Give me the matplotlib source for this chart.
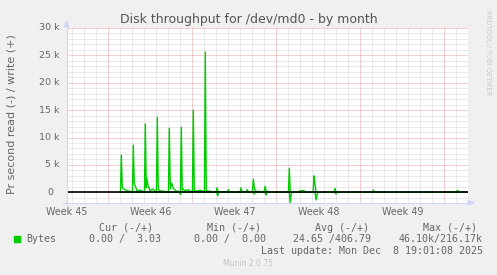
import matplotlib.pyplot as plt
from matplotlib.lines import Line2D
from matplotlib.patches import Polygon, Rectangle
from matplotlib.transforms import blended_transform_factory

# time in days from the start of the graph, values in k bytes/s
write_t = [4.48, 4.55, 4.63, 4.69, 4.94, 5.19, 5.48, 5.55, 5.63, 5.69, 5.86, 6.11, 6.28,
           6.48, 6.55, 6.63, 6.67, 6.78, 6.94, 7.19, 7.36, 7.48, 7.55, 7.63, 7.78, 8.03,
           8.48, 8.55, 8.63, 8.75, 8.86, 9.03, 9.19, 9.48, 9.55, 9.63, 9.69, 9.86, 10.11,
           10.28, 10.48, 10.55, 10.63, 10.86, 11.11, 11.36, 11.48, 11.55, 11.63, 11.94,
           12.19, 12.44, 12.53, 12.61, 13.40, 13.47, 13.54, 14.44, 14.53, 14.61, 14.98,
           15.05, 15.13, 15.48, 15.55, 15.63, 15.74, 16.45, 16.53, 16.61, 16.73, 16.94,
           18.48, 18.55, 18.63, 19.36, 19.44, 19.78, 19.86, 20.54, 20.61, 20.69, 20.78,
           22.29, 22.36, 22.44, 25.48, 25.55, 25.63, 32.44, 32.53, 32.61, 32.69, 33.36]
write_k = [0.0, 6.8, 0.9, 0.7, 0.4, 0.2, 0.1, 8.6, 1.5, 1.3, 0.3, 0.4, 0.2,
           0.1, 12.5, 0.8, 2.6, 1.2, 0.3, 0.6, 0.2, 0.1, 13.7, 0.5, 0.3, 0.2,
           0.1, 11.7, 0.6, 1.7, 0.8, 0.4, 0.2, 0.1, 11.9, 0.4, 0.6, 0.3, 0.5,
           0.2, 0.1, 15.0, 0.3, 0.2, 0.4, 0.2, 0.1, 25.6, 0.3, 0.2,
           0.1, 0.1, 0.8, 0.1, 0.1, 0.5, 0.1, 0.1, 0.8, 0.1, 0.1,
           0.5, 0.1, 0.1, 2.4, 0.8, 0.2, 0.1, 1.1, 0.3, 0.1, 0.0,
           0.0, 4.4, 0.0, 0.0, 0.3, 0.3, 0.0, 0.0, 3.0, 1.6, 0.0,
           0.0, 0.7, 0.0, 0.0, 0.4, 0.0, 0.0, 0.3, 0.3, 0.0, 0.0]

read_t = [4.48, 9.40, 9.47, 9.54, 12.50, 12.58, 12.66, 15.55, 15.63, 15.71, 16.53, 16.61,
          16.69, 18.55, 18.63, 18.71, 18.78, 20.69, 20.78, 20.86, 20.94, 22.36, 22.44,
          22.52, 33.36]
read_k = [0.0, 0.0, 0.4, 0.0, 0.0, 0.6, 0.0, 0.0, 0.3, 0.0, 0.0, 0.5,
          0.0, 0.0, 1.9, 0.3, 0.0, 0.0, 1.4, 0.5, 0.0, 0.0, 0.3,
          0.0, 0.0]

y_ticks = [0, 5, 10, 15, 20, 25, 30]
y_labels = ["0", "5 k", "10 k", "15 k", "20 k", "25 k", "30 k"]
week_pos = [-0.03, 6.97, 13.97, 20.97, 27.97]
week_labels = ["Week 45", "Week 46", "Week 47", "Week 48", "Week 49"]

legend_head = ["Cur (-/+)", "Min (-/+)", "Avg (-/+)", "Max (-/+)"]
legend_vals = ["0.00 /  3.03", "0.00 /  0.00", "24.65 /406.79", "46.10k/216.17k"]

W, H = 497, 275
def fx(x):
    return x / W
def fy(y):
    return 1 - y / H

fig = plt.figure(figsize=(W / 100, H / 100), dpi=100, facecolor="#f0f0f0")
ax = fig.add_axes([fx(66.7), fy(202.7), 401.6 / W, 174.7 / H])
ax.set_facecolor("white")
ax.set_xlim(0, 401.6 / 12)
ax.set_ylim(-1.9, 30)
for s in ax.spines.values():
    s.set_visible(False)
ax.set_xticks([])
ax.set_yticks([])

dot = (0, (1, 1))
# minor grid
for v in range(-1, 31):
    if v % 5 != 0:
        ax.axhline(v, color="#d4d4d4", lw=0.72, ls=dot, zorder=1)
for k in range(0, 34):
    d = 0.47 + k
    if (k - 3) % 7 != 0:
        ax.axvline(d, color="#d4d4d4", lw=0.72, ls=dot, zorder=1)
# major grid
for v in y_ticks:
    ax.axhline(v, color="#e6a0a0", lw=0.72, ls=dot, zorder=2)
for k in range(5):
    ax.axvline(3.47 + 7 * k, color="#e6a0a0", lw=0.72, ls=dot, zorder=2)

ax.plot(write_t, write_k, color="#00cc00", lw=1.0, zorder=3)
ax.plot(read_t, [-v for v in read_k], color="#00cc00", lw=1.0, zorder=3)
ax.axhline(0, color="black", lw=1.2, zorder=4)

txt = "#666666"
ty = blended_transform_factory(fig.transFigure, ax.transData)
for v, lab in zip(y_ticks, y_labels):
    x = 53.3 if lab == "0" else 59.3
    fig.text(fx(x), v, lab, transform=ty, ha="right", va="center", fontsize=6.8, color=txt)
tx = blended_transform_factory(ax.transData, fig.transFigure)
for p, lab in zip(week_pos, week_labels):
    ax.text(p, fy(212.3), lab, transform=tx, ha="center", va="center", fontsize=6.9,
            color=txt, clip_on=False)

# axes with arrows
axc = "#cfd6f8"
fig.add_artist(Line2D([fx(66.7), fx(66.7)], [fy(205), fy(24)], color=axc, lw=0.8))
fig.add_artist(Polygon([[fx(64.5), fy(27)], [fx(68.9), fy(27)], [fx(66.7), fy(21)]],
                       closed=True, color=axc))
fig.add_artist(Line2D([fx(63), fx(470)], [fy(202.7), fy(202.7)], color=axc, lw=0.8))
fig.add_artist(Polygon([[fx(468), fy(200.5)], [fx(468), fy(204.9)], [fx(474), fy(202.7)]],
                       closed=True, color=axc))

fig.text(fx(248.5), fy(19), "Disk throughput for /dev/md0 - by month", ha="center",
         va="center", fontsize=9, color="#555555")
fig.text(fx(12), fy(114.5), "Pr second read (-) / write (+)", rotation=90, ha="center",
         va="center", fontsize=8, color=txt)
fig.text(fx(488), fy(53), "RRDTOOL / TOBI OETIKER", rotation=270, ha="center",
         va="center", fontsize=4.8, color="#c8c8c8")

mono = "DejaVu Sans Mono"
r1, r2, r3 = fy(227.7), fy(239.3), fy(251)
fig.text(fx(98.7), r1, legend_head[0], family=mono, fontsize=7.2, color=txt, va="center")
fig.text(fx(206.7), r1, legend_head[1], family=mono, fontsize=7.2, color=txt, va="center")
fig.text(fx(315), r1, legend_head[2], family=mono, fontsize=7.2, color=txt, va="center")
fig.text(fx(476.7), r1, legend_head[3], family=mono, fontsize=7.2, color=txt, va="center",
         ha="right")
fig.add_artist(Rectangle((fx(14), fy(242.3)), 6 / W, 6 / H, color="#00cc00",
                         transform=fig.transFigure))
fig.text(fx(26.7), r2, "Bytes", family=mono, fontsize=7.2, color=txt, va="center")
fig.text(fx(89), r2, legend_vals[0], family=mono, fontsize=7.2, color=txt, va="center")
fig.text(fx(194.3), r2, legend_vals[1], family=mono, fontsize=7.2, color=txt, va="center")
fig.text(fx(293.3), r2, legend_vals[2], family=mono, fontsize=7.2, color=txt, va="center")
fig.text(fx(482.7), r2, legend_vals[3], family=mono, fontsize=7.2, color=txt, va="center",
         ha="right")
fig.text(fx(482.7), r3, "Last update: Mon Dec  8 19:01:08 2025", family=mono,
         fontsize=7.2, color=txt, va="center", ha="right")
fig.text(fx(248), fy(264), "Munin 2.0.75", ha="center", va="center", fontsize=5.5,
         color="#c4c4c4")

fig.savefig("out.png", dpi=100, facecolor=fig.get_facecolor())
